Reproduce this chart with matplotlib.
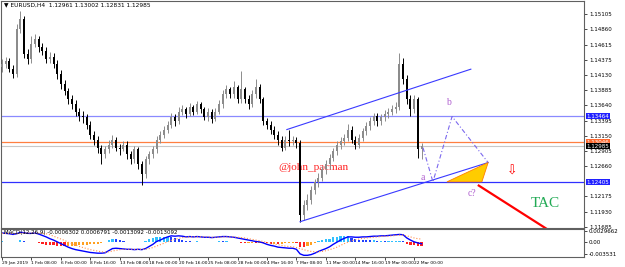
import matplotlib
matplotlib.use("Agg")
import matplotlib.pyplot as plt
import numpy as np

# EURUSD H4 candles (2 x H4 per candle)
closes = [1.1430, 1.1435, 1.1422, 1.1414, 1.1487, 1.1503, 1.1447, 1.1438, 1.1463, 1.1471,
          1.1458, 1.1452, 1.1438, 1.1442, 1.1430, 1.1414, 1.1398, 1.1387, 1.1374, 1.1366,
          1.1354, 1.1346, 1.1345, 1.1333, 1.1317, 1.1309, 1.1296, 1.1285, 1.1293, 1.1301,
          1.1309, 1.1296, 1.1293, 1.1301, 1.1285, 1.1277, 1.1293, 1.1269, 1.1253, 1.1277,
          1.1285, 1.1293, 1.1309, 1.1317, 1.1325, 1.1333, 1.1345, 1.1338, 1.1354, 1.1358,
          1.1350, 1.1361, 1.1354, 1.1366, 1.1358, 1.1345, 1.1354, 1.1342, 1.1354, 1.1366,
          1.1382, 1.1390, 1.1382, 1.1393, 1.1374, 1.1390, 1.1374, 1.1366, 1.1382, 1.1393,
          1.1374, 1.1338, 1.1333, 1.1325, 1.1317, 1.1309, 1.1296, 1.1309, 1.1306, 1.1309,
          1.1304, 1.1188, 1.1204, 1.1212, 1.1228, 1.1240, 1.1248, 1.1261, 1.1269, 1.1280,
          1.1290, 1.1301, 1.1306, 1.1312, 1.1325, 1.1309, 1.1301, 1.1312, 1.1322, 1.1330,
          1.1338, 1.1346, 1.1338, 1.1345, 1.1350, 1.1354, 1.1358, 1.1361, 1.1430, 1.1406,
          1.1374, 1.1358, 1.1374, 1.1293, 1.1298]
highs = [1.1438, 1.1442, 1.1440, 1.1428, 1.1495, 1.1515, 1.1508, 1.1455, 1.1476, 1.1478,
         1.1475, 1.1464, 1.1458, 1.1450, 1.1448, 1.1436, 1.1420, 1.1404, 1.1392, 1.1380,
         1.1372, 1.1360, 1.1355, 1.1350, 1.1338, 1.1322, 1.1314, 1.1300, 1.1298, 1.1308,
         1.1316, 1.1313, 1.1302, 1.1307, 1.1306, 1.1290, 1.1298, 1.1297, 1.1274, 1.1282,
         1.1291, 1.1299, 1.1314, 1.1322, 1.1331, 1.1339, 1.1352, 1.1350, 1.1362, 1.1364,
         1.1362, 1.1367, 1.1365, 1.1371, 1.1370, 1.1362, 1.1360, 1.1358, 1.1360, 1.1372,
         1.1388, 1.1397, 1.1394, 1.1403, 1.1397, 1.1419, 1.1394, 1.1380, 1.1388, 1.1406,
         1.1398, 1.1378, 1.1344, 1.1339, 1.1330, 1.1322, 1.1314, 1.1314, 1.1325, 1.1314,
         1.1313, 1.1308, 1.1212, 1.1222, 1.1234, 1.1246, 1.1256, 1.1266, 1.1276, 1.1286,
         1.1296, 1.1307, 1.1313, 1.1318, 1.1334, 1.1330, 1.1314, 1.1318, 1.1328, 1.1337,
         1.1345, 1.1352, 1.1351, 1.1350, 1.1356, 1.1360, 1.1364, 1.1369, 1.1448, 1.1440,
         1.1412, 1.1380, 1.1380, 1.1378, 1.1304]
lows = [1.1418, 1.1424, 1.1418, 1.1408, 1.1410, 1.1480, 1.1440, 1.1430, 1.1432, 1.1458,
        1.1450, 1.1444, 1.1432, 1.1432, 1.1424, 1.1406, 1.1390, 1.1380, 1.1366, 1.1358,
        1.1346, 1.1338, 1.1336, 1.1326, 1.1310, 1.1300, 1.1288, 1.1269, 1.1280, 1.1288,
        1.1296, 1.1290, 1.1284, 1.1290, 1.1278, 1.1270, 1.1272, 1.1262, 1.1236, 1.1248,
        1.1270, 1.1280, 1.1288, 1.1304, 1.1311, 1.1320, 1.1328, 1.1330, 1.1334, 1.1348,
        1.1344, 1.1346, 1.1348, 1.1350, 1.1352, 1.1340, 1.1338, 1.1336, 1.1338, 1.1350,
        1.1360, 1.1376, 1.1376, 1.1376, 1.1368, 1.1368, 1.1368, 1.1358, 1.1362, 1.1376,
        1.1368, 1.1332, 1.1326, 1.1318, 1.1310, 1.1300, 1.1290, 1.1292, 1.1298, 1.1300,
        1.1296, 1.1177, 1.1180, 1.1196, 1.1206, 1.1222, 1.1232, 1.1242, 1.1254, 1.1262,
        1.1274, 1.1284, 1.1294, 1.1300, 1.1306, 1.1304, 1.1294, 1.1296, 1.1306, 1.1316,
        1.1324, 1.1332, 1.1330, 1.1332, 1.1338, 1.1344, 1.1348, 1.1352, 1.1356, 1.1398,
        1.1366, 1.1346, 1.1352, 1.1280, 1.1277]
first_open = 1.1425

# MACD main / signal, in thousandths
macd_main = [2.4, 2.3, 2.2, 2.0, 2.2, 2.6, 2.5, 2.3, 2.3, 2.4,
             2.1, 1.7, 1.3, 0.8, 0.4, -0.1, -0.6, -1.1, -1.6, -2.0,
             -2.3, -2.5, -2.7, -2.9, -3.1, -3.2, -3.3, -3.3, -3.2, -2.6,
             -2.0, -1.9, -2.0, -2.1, -2.2, -2.2, -2.3, -2.2, -2.3, -2.0,
             -1.4, -0.8, 0.0, 0.4, 0.9, 1.3, 1.6, 1.5, 1.6, 1.5,
             1.3, 1.4, 1.3, 1.4, 1.3, 1.2, 1.2, 1.1, 1.2, 1.3,
             1.4, 1.4, 1.3, 1.2, 1.0, 0.8, 0.6, 0.4, 0.2, 0.0,
             -0.1, -0.4, -0.8, -1.1, -1.3, -1.6, -1.7, -1.8, -1.9, -1.9,
             -2.2, -3.5, -3.9, -3.9, -3.7, -3.3, -2.8, -2.4, -2.0, -1.5,
             -0.8, -0.2, 0.4, 0.9, 1.3, 1.3, 1.2, 1.2, 1.3, 1.3,
             1.4, 1.5, 1.5, 1.6, 1.6, 1.7, 1.8, 1.9, 2.0, 1.9,
             1.0, 0.4, -0.1, -0.4, -0.63]
macd_signal = [2.3, 2.3, 2.3, 2.2, 2.2, 2.3, 2.4, 2.4, 2.4, 2.4,
               2.4, 2.3, 2.2, 1.9, 1.5, 1.1, 0.7, 0.3, -0.2, -0.6,
               -1.0, -1.4, -1.7, -2.0, -2.3, -2.5, -2.7, -2.9, -3.0, -2.9,
               -2.7, -2.5, -2.3, -2.2, -2.2, -2.2, -2.2, -2.2, -2.2, -2.2,
               -2.0, -1.7, -1.3, -0.9, -0.5, -0.1, 0.3, 0.6, 0.9, 1.1,
               1.2, 1.3, 1.3, 1.3, 1.3, 1.3, 1.3, 1.2, 1.2, 1.2,
               1.3, 1.3, 1.3, 1.3, 1.2, 1.1, 1.0, 0.8, 0.6, 0.4,
               0.2, 0.0, -0.3, -0.5, -0.7, -0.9, -1.1, -1.3, -1.4, -1.5,
               -1.7, -2.0, -2.3, -2.6, -2.8, -2.9, -2.9, -2.8, -2.6, -2.3,
               -2.0, -1.6, -1.1, -0.6, -0.2, 0.2, 0.5, 0.7, 0.9, 1.0,
               1.1, 1.2, 1.3, 1.4, 1.5, 1.5, 1.6, 1.7, 1.8, 1.8,
               1.6, 1.3, 1.0, 0.8, 0.68]

date_labels = ["29 Jan 2019", "1 Feb 08:00", "6 Feb 00:00", "8 Feb 16:00", "13 Feb 08:00",
               "18 Feb 00:00", "20 Feb 16:00", "25 Feb 08:00", "28 Feb 00:00", "4 Mar 16:00",
               "7 Mar 08:00", "11 Mar 00:00", "14 Mar 16:00", "19 Mar 00:00", "22 Mar 00:00"]
price_ticks = [1.11685, 1.11930, 1.12175, 1.12660, 1.12905, 1.13150, 1.13395,
               1.13640, 1.13885, 1.14130, 1.14375, 1.14615, 1.14860, 1.15105]
levels = {"blue_hi": 1.13464, "orange": 1.13048, "bid": 1.12985, "blue_lo": 1.12405}

# drawn objects (bar index, price)
chan_up = [(77.4, 1.1325), (127.4, 1.1422)]
chan_lo = [(81.0, 1.1177), (132.1, 1.1272)]
wave = [(114.4, 1.1296), (117.1, 1.1241), (122.3, 1.1346), (132.1, 1.1272)]
wedge = [(120.9, 1.1241), (132.1, 1.1272), (130.4, 1.1241)]
red_line = [(129.3, 1.1236), (148.4, 1.1164)]

fig = plt.figure(figsize=(6.25, 2.67), dpi=100)
W, H = 625, 267
ax = fig.add_axes([1 / W, 1 - 228 / H, 583 / W, 227 / H])
ax2 = fig.add_axes([1 / W, 1 - 257 / H, 583 / W, 28 / H])

n = len(closes)
idx = np.arange(n)
opens = [first_open] + closes[:-1]
xlim = (-0.27, 158.15)

for i in range(n):
    o, c = opens[i], closes[i]
    col = "#000000" if c < o else "#8c8c8c"
    ax.vlines(i, lows[i], highs[i], color=col, lw=0.7, zorder=3)
    ax.bar(i, max(abs(c - o), 0.00004), bottom=min(o, c), width=0.55, color=col,
           lw=0, zorder=3)

ax.axhline(levels["blue_hi"], color="#8a8aff", lw=0.9, zorder=2)
ax.axhline(levels["orange"], color="#ff7f40", lw=0.9, zorder=2)
ax.axhline(levels["bid"], color="#c8c8c8", lw=0.8, zorder=2)
ax.axhline(levels["blue_lo"], color="#3030ff", lw=0.9, zorder=2)

ax.plot(*zip(*chan_up), color="#3a3aff", lw=0.8, zorder=4)
ax.plot(*zip(*chan_lo), color="#3a3aff", lw=0.8, zorder=4)
ax.plot(*zip(*wave), color="#7b68ee", lw=0.8, ls=(0, (4, 2, 1, 2)), zorder=4)
ax.fill(*zip(*wedge), facecolor="#ffcc00", edgecolor="#ff8000", lw=0.6, zorder=4)
ax.plot(*zip(*red_line), color="#ff0000", lw=1.6, zorder=4, solid_capstyle="butt")

serif = ["Liberation Serif", "DejaVu Serif"]
ax.text(114.4, 1.1248, "a", color="#b060d0", fontsize=7, family=serif, ha="center", va="center")
ax.text(121.2, 1.1369, "b", color="#b060d0", fontsize=7, family=serif, ha="center", va="center")
ax.text(127.7, 1.1223, "c?", color="#b060d0", fontsize=7, family=serif, ha="center", va="center")
ax.text(138.6, 1.1258, "\u21e9", color="#ff0000", fontsize=9, ha="center", va="center")
ax.text(147.6, 1.1207, "TAC", color="#22aa55", fontsize=11, family=serif, ha="center", va="center")
ax.text(84.5, 1.1264, "@john_pacman", color="#ff2020", fontsize=8, family=serif,
        ha="center", va="center", zorder=2)

ax.text(3 / 583, 1 - 4 / 227, "\u25bc EURUSD,H4  1.12961 1.13002 1.12831 1.12985",
        transform=ax.transAxes, fontsize=4.2, va="center", ha="left")

px = 0.00245 / 15.15
ax.set_xlim(*xlim)
ax.set_ylim(1.11685 - px, 1.15105 + 13 * px)
ax.yaxis.tick_right()
ax.set_yticks(price_ticks)
ax.set_yticklabels(["%.5f" % v for v in price_ticks])
ax.set_xticks([])
ax.tick_params(axis="y", labelsize=4.0, length=2, width=0.5, pad=1.5)

tags = [(levels["blue_hi"], "1.13464", "#2020ff", "white"),
        (levels["orange"], "1.13046", "#ff6a30", "white"),
        (levels["bid"], "1.12985", "#000000", "white"),
        (levels["blue_lo"], "1.12405", "#2020ff", "white")]
for y, s, bg, fg in tags:
    ax.text(1.004, y, s, transform=ax.get_yaxis_transform(), fontsize=4.0, color=fg,
            va="center", ha="left", clip_on=False, zorder=6,
            bbox=dict(boxstyle="square,pad=0.12", fc=bg, ec="none"))

# MACD panel
hist = [m - s for m, s in zip(macd_main, macd_signal)]
cols = []
for i, h in enumerate(hist):
    prev = hist[i - 1] if i else h
    if h < 0:
        cols.append("#ff2020" if h < prev else "#ffa020")
    else:
        cols.append("#30c0ff" if h >= prev else "#2040ff")
ax2.bar(idx, hist, width=0.6, color=cols, lw=0)
ax2.plot(idx, macd_main, color="#0000ff", lw=1.0)
ax2.plot(idx, macd_signal, color="#ff9050", lw=0.8, ls=":")
ax2.set_xlim(*xlim)
ax2.set_ylim(-15.5 * 0.2825, 12.5 * 0.2825)
ax2.yaxis.tick_right()
ax2.set_yticks([2.9662, 0.0, -3.531])
ax2.set_yticklabels(["0.0029662", "0.00", "-0.003531"])
ax2.tick_params(axis="y", labelsize=4.0, length=2, width=0.5, pad=1.5)
ax2.set_xticks(np.arange(len(date_labels)) * 8)
ax2.set_xticklabels(date_labels, ha="left")
ax2.tick_params(axis="x", labelsize=3.2, length=2, width=0.5, pad=1.2)
ax2.text(3 / 583, 0.86, "MACD(12,26,9) -0.0006302 0.0006791 -0.0013092 -0.0013092",
         transform=ax2.transAxes, fontsize=4.0, va="center", ha="left")

for a in (ax, ax2):
    for sp in a.spines.values():
        sp.set_color("#606060")
        sp.set_linewidth(0.8)

fig.savefig("out.png", dpi=100)
